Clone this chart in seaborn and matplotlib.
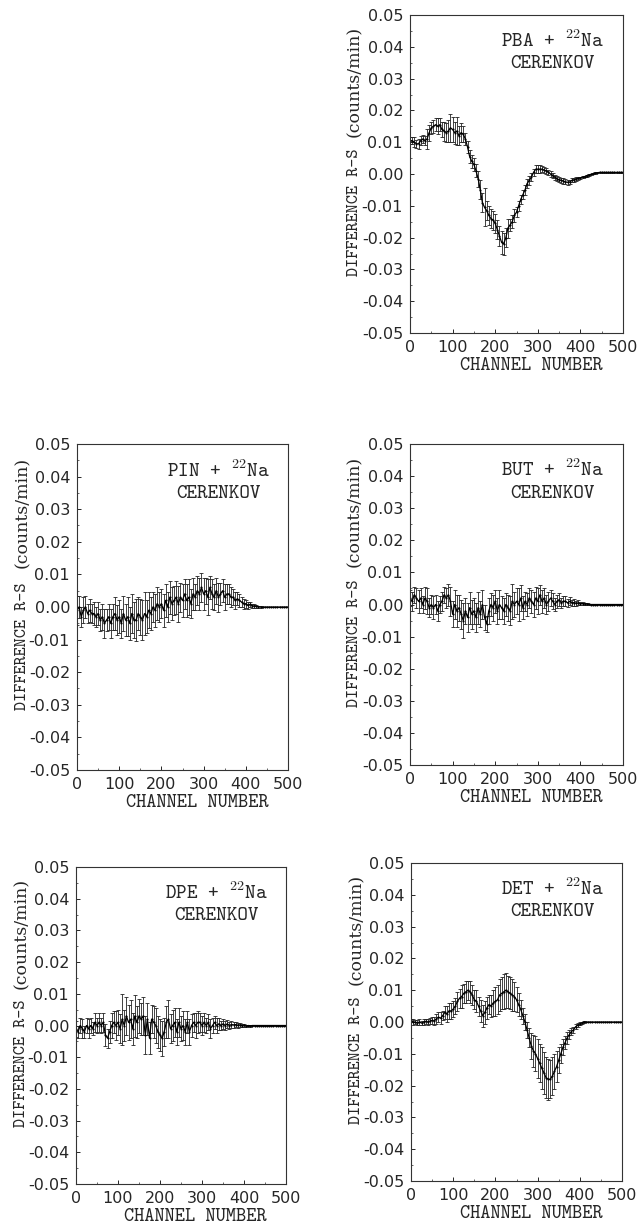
import matplotlib
matplotlib.use("Agg")
import matplotlib.pyplot as plt
from matplotlib.ticker import MultipleLocator, FuncFormatter
import pandas as pd
import seaborn as sns

# channel numbers (every 5th channel)
channel = list(range(0, 505, 5))

# differences R-S in units of 1e-3 counts/min
pba_diff = [10.5, 10.5, 10, 9.5, 9.5, 10.5, 11, 10.5, 11, 13,
            14.5, 15, 15.5, 15, 15.5, 14, 13.5, 13, 13.5, 14.5,
            14, 13, 13.5, 12, 13, 12.5, 11, 8.5, 5.5, 4,
            3, 1, -1.5, -5, -9, -10.5, -11.5, -13, -14, -14.5,
            -15.5, -17.5, -19.5, -21.5, -22, -20, -17, -16, -15, -13,
            -12, -10, -8, -6.5, -5, -3, -2, -1, 0.5, 1.5,
            1.5, 1.5, 1.5, 1.2, 1, 0.5, 0, -0.5, -1, -1.5,
            -1.8, -2, -2.2, -2.5, -2.6, -2.5, -2, -1.8, -1.6, -1.4,
            -1.2, -1, -0.8, -0.5, -0.3, -0.1, 0.1, 0.3, 0.4, 0.5,
            0.5, 0.5, 0.5, 0.5, 0.5, 0.5, 0.5, 0.5, 0.5, 0.5,
            0.5]
pba_err = [1.2, 1.2, 1.5, 1.2, 1.5, 1.5, 1.2, 1.5, 3, 2.5,
           2, 2, 2, 2.5, 2, 2.5, 3, 3, 3.5, 4.5,
           4, 3.5, 4.5, 3, 3, 2.5, 2, 2, 2, 2,
           2, 2, 2.5, 3, 3, 6, 3, 3, 3, 3,
           3, 3, 3, 3.5, 3.5, 3, 3, 2, 2, 2,
           1.5, 1.5, 1.5, 1.5, 1.5, 1.5, 1.5, 1.2, 1.2, 1.2,
           1.2, 1.2, 1, 1, 1, 0.8, 0.8, 0.8, 0.8, 0.8,
           0.8, 0.8, 0.8, 0.8, 0.8, 0.7, 0.6, 0.6, 0.5, 0.5,
           0.4, 0.4, 0.3, 0.3, 0.3, 0.2, 0.2, 0.2, 0.1, 0.1,
           0.05, 0.05, 0.05, 0.05, 0.05, 0.05, 0.05, 0.05, 0.05, 0.05,
           0.05]

pin_diff = [-1, 0, -3, -1, 0, -2, -1, -2, -2, -3,
            -2, -4, -3, -5, -4, -3, -5, -3, -2, -4,
            -3, -5, -2, -4, -3, -5, -2, -4, -4, -2,
            -3, -4, -2, -3, -1, -2, 0, -1, 1, 0,
            1, -1, 2, 0, 3, 1, 2, 3, 1, 3,
            2, 4, 2, 3, 1, 4, 3, 5, 4, 6,
            4, 5, 3, 6, 4, 3, 5, 3, 4, 5,
            3, 4, 4, 3, 3, 2, 2.5, 2, 1.5, 1,
            1, 0.5, 0.8, 0.4, 0.3, 0.2, 0.1, 0, 0, 0,
            0, 0, 0, 0, 0, 0, 0, 0, 0, 0,
            0]
pin_err = [4.5, 3.5, 3, 4, 3.5, 3, 3.5, 3, 3.5, 3,
           3.5, 3.5, 4, 4.5, 3.5, 4, 4.5, 4, 5, 4.5,
           5, 4.5, 5.5, 5, 6, 5, 6, 5.5, 6.5, 5,
           5.5, 6, 6.5, 5, 5.5, 5, 4.5, 5, 5, 4.5,
           4.5, 5, 5, 4.5, 5, 5, 4.5, 5, 5.5, 4.5,
           5, 4.5, 5, 5.5, 4.5, 5, 4, 4.5, 5, 4.5,
           5, 4, 5.5, 3.5, 4.5, 4, 4, 4.5, 3.5, 3.5,
           4, 3, 3, 3, 2.5, 2.5, 2, 2, 1.5, 1.5,
           1.2, 1, 0.8, 0.6, 0.5, 0.4, 0.3, 0.2, 0.1, 0.1,
           0.05, 0.05, 0.05, 0.05, 0.05, 0.05, 0.05, 0.05, 0.05, 0.05,
           0.05]

but_diff = [2, 1, 3, 2, 1, 2, 0, 2, 1, -1,
            0, -1, 0, -2, 0, 1, 3, 2, 3, 1,
            -3, 0, -2, -1, -3, -5, -2, -4, -1, -3,
            -2, -4, -1, -3, 0, -4, -6, -2, 0, -1,
            1, -2, 0, -1, -2, 0, -1, -2, 1, 0,
            1, 0, 2, -1, 1, 0, 2, 1, 0, 2,
            1, 3, 1, 2, 0, 1, 2, 1, 0, 1,
            1.5, 0.5, 1, 1, 0.5, 1, 0.5, 0.6, 0.4, 0.5,
            0.3, 0.3, 0.2, 0.2, 0.1, 0, 0, 0, 0, 0,
            0, 0, 0, 0, 0, 0, 0, 0, 0, 0,
            0]
but_err = [2.5, 3, 2.5, 3, 3.5, 3, 2.5, 3.5, 4, 3,
           3, 3.5, 3, 3, 2.5, 3, 2.5, 3, 3.5, 4.5,
           4, 4.5, 5, 4, 4.5, 5.5, 4, 4.5, 5, 4.5,
           4, 4.5, 5, 4, 4.5, 4, 2.5, 4, 3.5, 4,
           3.5, 4, 4.5, 3.5, 4, 3.5, 4, 4.5, 5.5, 4,
           4, 5, 4, 3.5, 3, 3.5, 3, 3.5, 4, 3.5,
           4, 3, 3.5, 3, 3, 3, 2.5, 2.5, 2, 2,
           2, 1.5, 1.5, 1.5, 1.2, 1.2, 1, 1, 0.8, 0.8,
           0.6, 0.5, 0.4, 0.3, 0.2, 0.2, 0.1, 0.1, 0.1, 0.05,
           0.05, 0.05, 0.05, 0.05, 0.05, 0.05, 0.05, 0.05, 0.05, 0.05,
           0.05]

dpe_diff = [-1, -2, 0, -1, -2, 0, -1, 0, -1, 1,
            0, 1, 0, 1, -3, -4, -2, 0, 1, 0,
            1, -1, 2, 0, 3, 1, 2, -1, 3, 1,
            3, 2, 3, -3, 2, -4, 2, 1, 0, -2,
            -3, -4, -2, 1, 2, -1, 0, 1, -2, 1,
            -1, 0, -2, 1, -2, 0, 1, 0, 1, 1,
            0, 1, 0, 1, -1, 0, 1, 0, 0.5, 0,
            0.5, 0, 0.5, 0, 0.3, 0.2, 0.3, 0.1, 0.2, 0,
            0.1, -0.2, 0, -0.1, 0, 0, 0, 0, 0, 0,
            0, 0, 0, 0, 0, 0, 0, 0, 0, 0,
            0]
dpe_err = [2.5, 2, 2.5, 3, 2, 2.5, 3, 2.5, 2, 3,
           2.5, 3, 2.5, 3, 3.5, 3, 3.5, 4, 3.5, 4.5,
           4, 4.5, 8, 5, 6, 5.5, 6, 5, 6.5, 5,
           5.5, 5, 6, 6, 5, 5, 4.5, 5, 5.5, 5,
           5, 5.5, 4.5, 5, 6, 4.5, 5, 4.5, 4, 4.5,
           4, 4.5, 4, 3.5, 4, 3.5, 3, 4, 3.5, 3,
           3, 3, 2.5, 2.5, 3, 2.5, 2, 2.5, 2, 1.5,
           1.5, 1.5, 1.2, 1.2, 1, 1, 0.8, 0.8, 0.6, 0.6,
           0.5, 0.4, 0.3, 0.3, 0.2, 0.1, 0.1, 0.1, 0.05, 0.05,
           0.05, 0.05, 0.05, 0.05, 0.05, 0.05, 0.05, 0.05, 0.05, 0.05,
           0.05]

det_diff = [0.5, 0, 0, -0.3, 0, -0.3, 0, 0.2, 0, 0.3,
            0.5, 0.3, 1, 1.5, 1.2, 2, 3, 2.5, 3.5, 3.5,
            4, 5, 6.5, 7.5, 8, 9, 9.5, 10, 9.5, 8.5,
            7, 6.5, 5, 3.5, 2, 3, 4.5, 5.5, 5, 6,
            6.5, 7, 8.5, 9, 9.5, 10, 9.5, 9, 8.5, 8,
            7, 5.5, 4, 2, 0, -2.5, -5, -7.5, -9, -10,
            -11.5, -13, -14.5, -16, -17.5, -18, -18, -17, -15.5, -14,
            -12, -10, -8, -6.5, -5, -4, -3, -2.5, -1.5, -1,
            -0.6, -0.3, 0, 0, 0, 0, 0, 0, 0, 0,
            0, 0, 0, 0, 0, 0, 0, 0, 0, 0,
            0]
det_err = [0.6, 0.8, 0.6, 0.8, 0.8, 0.7, 0.8, 0.9, 0.8, 1,
           1, 1.2, 1.5, 1.5, 1.8, 1.5, 2, 2.5, 2.5, 2.5,
           2.5, 2.5, 3, 3, 3.5, 3, 3.5, 3, 3.5, 3,
           3, 3.5, 3, 3.5, 3.5, 3.5, 3.5, 3, 3.5, 4,
           4.5, 4.5, 5, 5, 5.5, 5.5, 5, 5, 5, 4.5,
           4, 3.5, 3, 2.5, 2.5, 2.5, 3, 4, 5, 5.5,
           6, 6, 6.5, 6.5, 6.5, 6.5, 6, 6, 5.5, 5,
           4, 3, 2.5, 2, 2, 1.5, 1.2, 1, 0.8, 0.6,
           0.5, 0.3, 0.2, 0.1, 0.1, 0.05, 0.05, 0.05, 0.05, 0.05,
           0.05, 0.05, 0.05, 0.05, 0.05, 0.05, 0.05, 0.05, 0.05, 0.05,
           0.05]

samples = ["PBA", "PIN", "BUT", "DPE", "DET"]
diffs = [pba_diff, pin_diff, but_diff, dpe_diff, det_diff]
errs = [pba_err, pin_err, but_err, dpe_err, det_err]

sns.set_style("ticks")
plt.rcParams["axes.unicode_minus"] = False
plt.rcParams["mathtext.fontset"] = "cm"

fig = plt.figure(figsize=(6.4, 12.28), dpi=100)

# axes boxes in pixels: left, top, right, bottom
boxes = {
    "PBA": (410, 15, 623, 333),
    "PIN": (77, 444, 288, 770),
    "BUT": (410, 444, 623, 765),
    "DPE": (76, 867, 286, 1184),
    "DET": (411, 863, 622, 1181),
}

W, H = 640, 1228
tt = ["cmtt10", "DejaVu Sans Mono"]


def ytick_fmt(v, pos):
    s = "%.2f" % v
    if s == "-0.00":
        s = "0.00"
    return s


for name, d, e in zip(samples, diffs, errs):
    l, t, r, b = boxes[name]
    ax = fig.add_axes([l / W, 1 - b / H, (r - l) / W, (b - t) / H])
    df = pd.DataFrame({"channel": channel,
                       "diff": [v * 1e-3 for v in d],
                       "err": [v * 1e-3 for v in e]})
    ax.errorbar(df["channel"], df["diff"], yerr=df["err"], fmt="none",
                ecolor="#222222", elinewidth=0.6, capsize=1.3, capthick=0.6)
    sns.lineplot(data=df, x="channel", y="diff", ax=ax, color="black",
                 linewidth=0.9, marker="o", markersize=1.5, markeredgewidth=0)

    ax.set_xlim(0, 500)
    ax.set_ylim(-0.05, 0.05)
    ax.xaxis.set_major_locator(MultipleLocator(100))
    ax.xaxis.set_minor_locator(MultipleLocator(50))
    ax.yaxis.set_major_locator(MultipleLocator(0.01))
    ax.yaxis.set_minor_locator(MultipleLocator(0.005))
    ax.yaxis.set_major_formatter(FuncFormatter(ytick_fmt))
    ax.tick_params(which="major", direction="in", length=3, width=0.7,
                   labelsize=11.5, pad=5)
    ax.tick_params(which="minor", direction="in", length=1.5, width=0.5)
    for lab in ax.get_xticklabels() + ax.get_yticklabels():
        lab.set_fontfamily("DejaVu Sans")
    for sp in ax.spines.values():
        sp.set_linewidth(0.8)
        sp.set_color("#333333")

    ax.set_xlabel("")
    ax.set_ylabel("")
    ax.text(0.57, -0.075, "CHANNEL NUMBER", transform=ax.transAxes,
            ha="center", va="top", fontsize=14, family=tt)
    ax.text(-0.26, 0.38, "DIFFERENCE R-S", transform=ax.transAxes,
            ha="center", va="center", rotation=90, fontsize=12.5, family=tt)
    ax.text(-0.26, 0.79, "(counts/min)", transform=ax.transAxes,
            ha="center", va="center", rotation=90, fontsize=12.5,
            family="DejaVu Serif")
    ax.text(0.67, 0.90, name + r" + $^{\mathtt{22}}$Na", transform=ax.transAxes,
            ha="center", va="baseline", fontsize=14.5, family=tt)
    ax.text(0.67, 0.833, "CERENKOV", transform=ax.transAxes,
            ha="center", va="baseline", fontsize=14.5, family=tt)

fig.savefig("out.png", dpi=100)
